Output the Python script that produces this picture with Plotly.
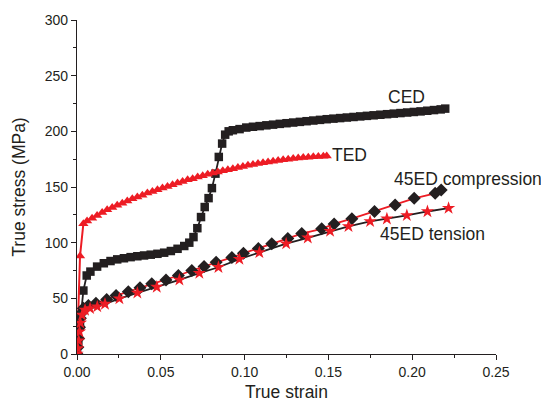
import plotly.graph_objects as go

# ---- data ----
ced_x = [0, 0.0008, 0.0018, 0.0038, 0.0058, 0.008, 0.012, 0.016, 0.020, 0.024, 0.028, 0.032,
         0.036, 0.040, 0.044, 0.048, 0.052, 0.056, 0.060, 0.064, 0.067,
         0.0695, 0.0718, 0.074, 0.0762, 0.0785, 0.0805, 0.0826, 0.0846, 0.0866, 0.0884, 0.0905,
         0.093, 0.097, 0.101, 0.105, 0.109, 0.113, 0.117, 0.121, 0.125, 0.129, 0.133, 0.137,
         0.141, 0.145, 0.149, 0.153, 0.157, 0.161, 0.165, 0.169, 0.173, 0.177, 0.181, 0.185,
         0.189, 0.193, 0.197, 0.201, 0.205, 0.209, 0.213, 0.217, 0.2197]
ced_y = [0, 12, 25, 57, 70.5, 74, 78.5, 81.5, 83.5, 85, 86, 87,
         87.8, 88.5, 89.2, 90, 91, 92.5, 94.5, 97, 100,
         105, 113, 123, 132, 140, 149, 162, 177, 189, 197, 200,
         201, 202, 203.4, 204.1, 204.7, 205.4, 206, 206.7, 207.3, 207.9, 208.5, 209.1,
         209.7, 210.3, 210.9, 211.4, 211.9, 212.4, 212.9, 213.4, 213.9, 214.4, 214.9, 215.4,
         215.9, 216.4, 216.9, 217.4, 217.9, 218.5, 219.1, 219.7, 220.4]

ted_x = [0, 0.0018, 0.0038, 0.006, 0.009, 0.012, 0.015, 0.018, 0.021, 0.024, 0.027, 0.030,
         0.033, 0.036, 0.039, 0.042, 0.045, 0.048, 0.051, 0.054, 0.057, 0.060, 0.063, 0.066,
         0.069, 0.072, 0.075, 0.078, 0.081, 0.084, 0.087, 0.090, 0.093, 0.096, 0.099, 0.102,
         0.105, 0.108, 0.111, 0.114, 0.117, 0.120, 0.123, 0.126, 0.129, 0.132, 0.135, 0.138,
         0.141, 0.144, 0.147, 0.149]
ted_y = [0, 88, 117, 119.5, 122, 124.5, 127, 129.5, 131.5, 133.5, 135.5, 137.5,
         139.5, 141, 142.5, 144.5, 146, 147.5, 149, 150.5, 152, 153.5, 155, 156.5,
         157.5, 159, 160, 161.5, 162.5, 163.5, 164.5, 165.5, 166.5, 167.5, 168.5, 169.5,
         170.3, 171, 171.8, 172.5, 173.2, 173.8, 174.4, 175, 175.5, 176, 176.4, 176.8,
         177.1, 177.4, 177.6, 177.8]

comp_x = [0, 0.0005, 0.001, 0.0015, 0.002, 0.0028, 0.0038, 0.0068, 0.0113, 0.0177, 0.0233,
          0.0306, 0.0376, 0.0446, 0.0531, 0.0605, 0.0685, 0.0758, 0.083, 0.0924, 0.0993,
          0.1082, 0.1162, 0.1258, 0.1341, 0.146, 0.1534, 0.164, 0.1775, 0.1898, 0.2012,
          0.2137, 0.2173]
comp_y = [0, 6, 14, 24, 32, 37, 41, 43.5, 45.5, 49, 52.5,
          56, 59.5, 63, 66.5, 70.5, 75, 78.5, 82.5, 86.7, 90.5,
          94.7, 99, 103.8, 108.2, 112.4, 116.8, 121.5, 128, 133.9, 139.8,
          144.3, 147.2]

tens_x = [0, 0.0005, 0.001, 0.0015, 0.002, 0.003, 0.0048, 0.0078, 0.0121, 0.0167, 0.0253,
          0.036, 0.0476, 0.0611, 0.073, 0.0844, 0.0969, 0.1088, 0.1248, 0.1377, 0.151,
          0.162, 0.1749, 0.1849, 0.1968, 0.2091, 0.2217]
tens_y = [0, 5, 12, 20, 28, 35, 39.5, 41, 42.5, 44.9, 49.8,
          54.9, 60.2, 66.6, 72.6, 77.9, 85.2, 91.2, 99.1, 104.4, 110.3,
          114.7, 119.1, 121.5, 124.5, 128, 131]

labels = ["CED", "TED", "45ED compression", "45ED tension"]
label_x = [0.1963, 0.151, 0.1878, 0.1798]
label_y = [231, 179, 157.5, 107.4]
label_anchor = ["center", "left", "left", "left"]

BLACK = "#231f20"
RED = "#ed1c24"
FONT = "Liberation Sans, Arial, sans-serif"

fig = go.Figure()
fig.add_trace(go.Scatter(x=ced_x, y=ced_y, mode="lines+markers",
                         line=dict(color=BLACK, width=1.8),
                         marker=dict(symbol="square", size=8.5, color=BLACK)))
fig.add_trace(go.Scatter(x=ted_x, y=ted_y, mode="lines+markers",
                         line=dict(color=RED, width=2),
                         marker=dict(symbol="triangle-up", size=9, color=RED)))
fig.add_trace(go.Scatter(x=comp_x, y=comp_y, mode="lines+markers",
                         line=dict(color=RED, width=1.8),
                         marker=dict(symbol="diamond", size=10, color=BLACK)))
fig.add_trace(go.Scatter(x=tens_x, y=tens_y, mode="lines+markers",
                         line=dict(color=BLACK, width=1.8),
                         marker=dict(symbol="star", size=10, color=RED)))

for t, lx, ly, an in zip(labels, label_x, label_y, label_anchor):
    fig.add_annotation(x=lx, y=ly, text=t, showarrow=False, xanchor=an, yanchor="middle",
                       font=dict(family=FONT, size=17.5, color=BLACK))

axis_common = dict(showline=True, linecolor=BLACK, linewidth=1.3, ticks="outside",
                   ticklen=5, tickwidth=1.2, tickcolor=BLACK, showgrid=False, zeroline=False,
                   tickfont=dict(family=FONT, size=14, color=BLACK), mirror=False)

fig.update_layout(
    width=541, height=410,
    margin=dict(l=77, r=45, t=19, b=52),
    plot_bgcolor="white", paper_bgcolor="white",
    showlegend=False,
    xaxis=dict(range=[0, 0.25], dtick=0.05, tick0=0, tickformat=".2f",
               title=dict(text="True strain", font=dict(family=FONT, size=17.5, color=BLACK), standoff=6),
               minor=dict(dtick=0.025, ticks="outside", ticklen=3, tickcolor=BLACK, tickwidth=1.2),
               **axis_common),
    yaxis=dict(range=[0, 300], dtick=50, tick0=0,
               title=dict(text="True stress (MPa)", font=dict(family=FONT, size=17.5, color=BLACK), standoff=14),
               minor=dict(dtick=25, ticks="outside", ticklen=3, tickcolor=BLACK, tickwidth=1.2),
               **axis_common),
)

fig.write_html("out.html")
